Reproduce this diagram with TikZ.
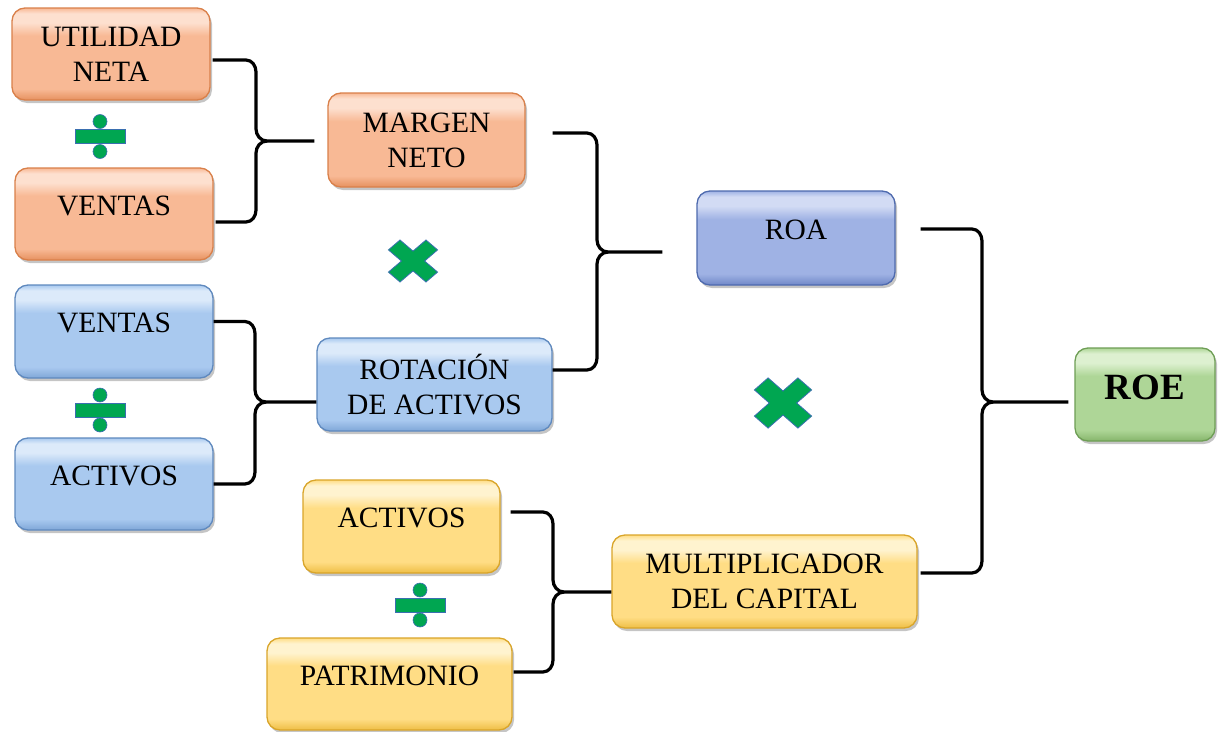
\documentclass[tikz,border=0pt]{standalone}
\usepackage{fontspec}
\setmainfont{Liberation Serif}
\usetikzlibrary{calc,shadows}
\definecolor{orL}{HTML}{FDE0CF}
\definecolor{orM}{HTML}{F8B995}
\definecolor{orB}{HTML}{E6915F}
\definecolor{orD}{HTML}{D9804A}
\definecolor{blL}{HTML}{DCEAFA}
\definecolor{blM}{HTML}{A9C9EF}
\definecolor{blB}{HTML}{7FA7D8}
\definecolor{blD}{HTML}{5F89BE}
\definecolor{roL}{HTML}{D2DBF4}
\definecolor{roM}{HTML}{9FB2E4}
\definecolor{roB}{HTML}{7088C8}
\definecolor{roD}{HTML}{4E6AAE}
\definecolor{grL}{HTML}{DDF0D0}
\definecolor{grM}{HTML}{AED697}
\definecolor{grB}{HTML}{86B56B}
\definecolor{grD}{HTML}{6E9E55}
\definecolor{yeL}{HTML}{FFF3CF}
\definecolor{yeM}{HTML}{FFDD85}
\definecolor{yeB}{HTML}{EEBE45}
\definecolor{yeD}{HTML}{D9A52A}
\definecolor{symG}{HTML}{00A651}
\definecolor{symB}{HTML}{3A6FB0}
\newcommand\mkshade[4]{%
  \pgfdeclareverticalshading{#1}{100bp}{color(0bp)=(#4); color(25bp)=(#4);
    color(31bp)=(#3); color(60bp)=(#3); color(67bp)=(#2); color(72bp)=(#2);
    color(75bp)=(#3); color(100bp)=(#3)}}
\mkshade{orsh}{orL}{orM}{orB}
\mkshade{blsh}{blL}{blM}{blB}
\mkshade{rosh}{roL}{roM}{roB}
\mkshade{grsh}{grL}{grM}{grB}
\mkshade{yesh}{yeL}{yeM}{yeB}
\newcommand\bracepath[4]{%
  \draw[bracelw] (#1) -- ($(#1 -| #3)+(-10,0)$) to[out=0,in=90] ($(#1 -| #3)+(0,12)$)
     -- ($(#3)+(0,-12)$) to[out=-90,in=180] ($(#3)+(11,0)$) -- (#4);
  \draw[bracelw] (#2) -- ($(#2 -| #3)+(-10,0)$) to[out=0,in=-90] ($(#2 -| #3)+(0,-12)$)
     -- ($(#3)+(0,12)$) to[out=90,in=180] ($(#3)+(11,0)$);
}
\newcommand\divsym[1]{%
  \begin{scope}[shift={(#1)}]
    \fill[symG, draw=symB, line width=0.8pt] (-25,-7) rectangle (25,7);
    \fill[symG, draw=symB, line width=0.6pt] (0,-15) circle (7);
    \fill[symG, draw=symB, line width=0.6pt] (0,15) circle (7);
  \end{scope}}
\newcommand\mulsym[4]{% center, xscale, a, L
  \begin{scope}[shift={(#1)}, xscale=#2, rotate=45]
    \filldraw[fill=symG, draw=symB, line width=0.8pt]
      (#3,#3) -- (#3,#4) -- (-#3,#4) -- (-#3,#3) -- (-#4,#3) -- (-#4,-#3) -- (-#3,-#3)
      -- (-#3,-#4) -- (#3,-#4) -- (#3,-#3) -- (#4,-#3) -- (#4,#3) -- cycle;
  \end{scope}}
\begin{document}
\begin{tikzpicture}[x=1pt,y=-1pt,
  box/.style={draw, line width=1.3pt, rounded corners=13pt, align=center,
    font=\fontsize{29.5}{35}\selectfont, inner sep=0pt,
    drop shadow={shadow xshift=2pt, shadow yshift=-3pt, opacity=0.45}},
  orbox/.style={box, draw=orD, shading=orsh},
  blbox/.style={box, draw=blD, shading=blsh},
  robox/.style={box, draw=roD, shading=rosh},
  grbox/.style={box, draw=grD, shading=grsh},
  yebox/.style={box, draw=yeD, shading=yesh},
  up/.style={text height=20pt, text depth=18pt},
  bracelw/.style={line width=3.2pt, black}]
\useasboundingbox (0,0) rectangle (1218,731);
\fill[white] (0,0) rectangle (1218,731);

% boxes
\node[orbox, minimum width=198pt, minimum height=92pt] (un) at (111,54) {UTILIDAD\\NETA};
\node[orbox, up, minimum width=198pt, minimum height=92pt] (vo) at (114,214) {VENTAS};
\node[orbox, minimum width=197pt, minimum height=94pt] (mn) at (426.5,140) {MARGEN\\NETO};
\node[blbox, up, minimum width=198pt, minimum height=93pt] (vb) at (114,331.5) {VENTAS};
\node[blbox, up, minimum width=198pt, minimum height=92pt] (ab) at (114,484) {ACTIVOS};
\node[blbox, minimum width=235pt, minimum height=93pt] (ra) at (434.5,384.5) {ROTACIÓN\\DE ACTIVOS};
\node[robox, up, minimum width=198pt, minimum height=94pt] (roa) at (796,238) {ROA};
\node[grbox, minimum width=140pt, minimum height=93pt, text height=25pt, text depth=14.5pt,
      font=\fontsize{37}{40}\selectfont\bfseries] (roe) at (1145,394.5) {ROE};
\node[yebox, up, minimum width=197pt, minimum height=93pt] (ay) at (401.5,526.5) {ACTIVOS};
\node[yebox, up, minimum width=245pt, minimum height=92pt] (pat) at (389.5,684) {PATRIMONIO};
\node[yebox, minimum width=305pt, minimum height=93pt] (mc) at (764.5,581.5) {MULTIPLICADOR\\DEL CAPITAL};

% brace end points
\coordinate (b1t) at ([shift={(2,6)}]un.east);
\coordinate (b1b) at ([shift={(2,8)}]vo.east);
\coordinate (b1c) at (256,141);
\coordinate (b1x) at ([shift={(-13,1)}]mn.west);

\coordinate (b2t) at ([shift={(27,-7)}]mn.east);
\coordinate (b2b) at ([shift={(0,-14.5)}]ra.east);
\coordinate (b2c) at (597,252);
\coordinate (b2x) at ([shift={(-34,14)}]roa.west);

\coordinate (b3t) at ([shift={(0,-10)}]vb.east);
\coordinate (b3b) at (ab.east);
\coordinate (b3c) at (255,402);
\coordinate (b3x) at ([shift={(0,17.5)}]ra.west);

\coordinate (b4t) at ([shift={(10,-14.5)}]ay.east);
\coordinate (b4b) at ([shift={(1,-12)}]pat.east);
\coordinate (b4c) at (553,592);
\coordinate (b4x) at ([shift={(0,10.5)}]mc.west);

\coordinate (b5t) at ([shift={(25,-9)}]roa.east);
\coordinate (b5b) at ([shift={(3,-8.5)}]mc.east);
\coordinate (b5c) at (982,402);
\coordinate (b5x) at ([shift={(-6,7.5)}]roe.west);

\bracepath{b1t}{b1b}{b1c}{b1x}
\bracepath{b2t}{b2b}{b2c}{b2x}
\bracepath{b3t}{b3b}{b3c}{b3x}
\bracepath{b4t}{b4b}{b4c}{b4x}
\bracepath{b5t}{b5b}{b5c}{b5x}

% operators
\divsym{100,136.5}
\divsym{100,410}
\divsym{420,605}
\mulsym{413,261}{1.17}{7}{22.7}
\mulsym{783,403}{1.14}{8.5}{27}
\end{tikzpicture}
\end{document}
